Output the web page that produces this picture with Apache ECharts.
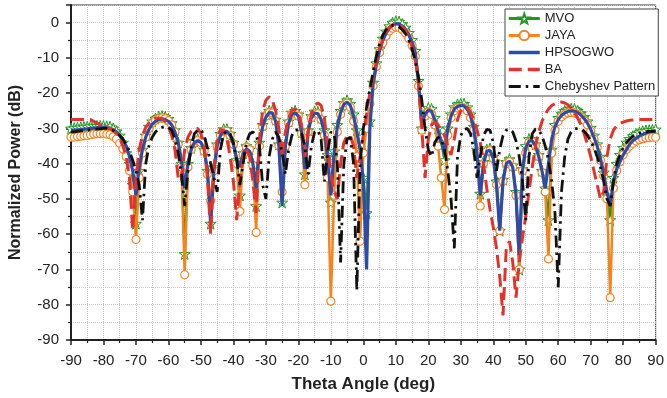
<!DOCTYPE html>
<html>
<head>
<meta charset="UTF-8">
<title>Normalized Power vs Theta Angle</title>
<script src="https://cdn.jsdelivr.net/npm/echarts/dist/echarts.min.js"></script>
<style>
  html, body { margin: 0; padding: 0; background: #fff; }
  #chart { width: 667px; height: 398px; }
</style>
</head>
<body>
<div id="chart"></div>
<script>
// theta grid, 1 deg steps from -90 to 90
const THETA = Array.from({ length: 181 }, (_, i) => i - 90);

// normalized power (dB), one value per degree
const MVO = [
  -30.0, -29.9, -29.8, -29.7, -29.6, -29.5, -29.4, -29.3, -29.3, -29.3,
  -29.3, -29.4, -29.5, -30.0, -30.8, -32.0, -34.0, -37.0, -40.0, -46.0,
  -57.0, -42.0, -36.0, -32.0, -29.5, -28.0, -27.2, -26.7, -26.5, -26.7,
  -27.3, -28.5, -30.5, -34.0, -40.0, -65.6, -40.0, -35.5, -33.5, -33.0,
  -33.5, -36.0, -42.0, -57.0, -41.0, -34.5, -31.5, -30.2, -30.2, -31.5,
  -34.0, -39.0, -49.0, -37.0, -35.0, -36.0, -40.0, -52.0, -34.0, -29.0,
  -26.0, -25.0, -25.0, -27.5, -34.5, -51.0, -34.5, -28.0, -25.5, -25.0,
  -26.0, -31.0, -43.0, -30.5, -26.5, -25.2, -25.3, -27.0, -30.5, -37.5,
  -51.0, -36.5, -29.0, -25.0, -22.8, -22.0, -23.0, -26.0, -30.5, -36.0,
  -44.0, -54.0, -28.0, -17.0, -11.5, -7.5, -4.5, -2.5, -1.0, 0.0,
  0.4, 0.3, -0.4, -1.4, -2.9, -4.9, -8.0, -16.5, -30.0, -25.5,
  -24.2, -24.5, -27.0, -30.0, -34.0, -39.0, -30.0, -26.0, -24.0, -23.2,
  -23.0, -23.0, -24.0, -26.0, -29.5, -36.0, -48.5, -39.5, -36.0, -35.7,
  -38.0, -45.0, -59.0, -44.5, -39.5, -38.7, -40.5, -48.0, -70.0, -41.5,
  -35.0, -33.0, -33.0, -34.5, -37.5, -42.0, -47.0, -56.0, -36.0, -29.0,
  -27.0, -25.8, -25.0, -24.6, -24.4, -24.5, -25.0, -25.7, -26.7, -28.0,
  -29.8, -32.0, -34.5, -38.0, -42.5, -49.0, -56.0, -44.0, -40.0, -37.5,
  -35.5, -34.0, -33.0, -32.2, -31.6, -31.1, -30.8, -30.6, -30.5, -30.4,
  -30.3
];

const JAYA = [
  -32.5, -32.5, -32.3, -32.2, -32.1, -32.0, -31.8, -31.6, -31.5, -31.5,
  -31.5, -31.6, -31.8, -32.3, -33.0, -34.2, -35.8, -38.0, -42.0, -48.0,
  -61.5, -44.0, -37.0, -32.5, -30.0, -28.5, -27.7, -27.2, -27.0, -27.2,
  -27.8, -29.0, -31.0, -34.5, -41.0, -71.5, -41.0, -36.0, -34.0, -33.5,
  -34.0, -36.5, -43.0, -50.5, -42.0, -35.0, -32.0, -30.8, -30.8, -32.0,
  -34.5, -40.0, -53.5, -37.5, -35.3, -36.0, -40.5, -59.5, -35.0, -29.5,
  -26.5, -25.5, -25.6, -28.0, -35.0, -48.0, -35.0, -28.5, -26.0, -25.5,
  -26.5, -31.5, -46.0, -31.0, -27.0, -25.7, -25.8, -27.5, -32.0, -44.0,
  -79.0, -49.0, -31.0, -26.0, -23.5, -22.8, -24.0, -28.0, -38.0, -62.0,
  -37.0, -30.0, -23.0, -18.0, -12.5, -8.5, -5.8, -3.8, -2.4, -1.6,
  -1.3, -1.4, -2.0, -3.0, -4.5, -6.5, -9.5, -18.0, -30.5, -26.5,
  -25.3, -26.0, -29.0, -35.0, -44.0, -53.0, -32.0, -27.0, -25.0, -24.2,
  -24.0, -24.2, -25.0, -27.0, -30.5, -37.0, -52.0, -40.0, -36.5, -36.3,
  -38.5, -46.0, -59.0, -45.0, -40.0, -39.4, -41.0, -49.0, -70.0, -42.0,
  -37.0, -34.0, -33.8, -35.0, -38.0, -42.5, -48.0, -67.0, -37.0, -30.5,
  -28.0, -26.7, -26.0, -25.6, -25.5, -25.6, -26.0, -26.7, -27.7, -29.0,
  -30.8, -33.0, -35.5, -39.0, -43.5, -50.0, -78.0, -47.0, -42.0, -39.5,
  -37.5, -36.0, -35.0, -34.2, -33.6, -33.2, -32.9, -32.7, -32.6, -32.5,
  -32.5
];

const HPSOGWO = [
  -30.5, -30.5, -30.4, -30.3, -30.2, -30.1, -30.0, -29.9, -29.8, -29.8,
  -29.8, -29.8, -30.0, -30.3, -31.0, -32.0, -33.5, -35.0, -38.0, -42.0,
  -49.0, -41.0, -36.0, -32.5, -30.3, -28.8, -28.0, -27.5, -27.3, -27.5,
  -28.0, -29.0, -31.0, -34.0, -39.0, -47.0, -40.0, -36.0, -34.0, -33.5,
  -34.0, -36.0, -42.0, -57.0, -42.0, -35.0, -32.0, -30.8, -30.8, -32.0,
  -34.5, -38.5, -41.0, -37.0, -35.8, -36.5, -40.0, -47.0, -35.0, -29.5,
  -26.8, -25.5, -25.6, -28.0, -35.0, -52.0, -35.0, -28.5, -26.0, -25.5,
  -26.5, -31.0, -41.5, -31.0, -27.0, -25.7, -25.8, -27.5, -31.0, -38.0,
  -49.0, -37.0, -29.5, -25.5, -23.2, -22.5, -23.5, -26.5, -31.0, -36.0,
  -45.0, -70.0, -30.0, -17.5, -12.0, -8.0, -5.0, -3.0, -1.6, -0.7,
  -0.3, -0.4, -1.0, -2.0, -3.5, -5.5, -8.5, -17.0, -29.0, -26.0,
  -24.8, -25.2, -27.5, -30.5, -34.0, -37.0, -30.0, -26.5, -24.5, -23.8,
  -23.5, -23.6, -24.5, -26.5, -30.0, -37.0, -49.0, -40.0, -36.5, -36.2,
  -38.5, -46.0, -59.0, -45.0, -40.0, -39.2, -41.0, -49.0, -66.0, -42.0,
  -35.5, -33.6, -33.5, -35.0, -38.0, -42.0, -47.0, -40.0, -33.0, -29.5,
  -27.5, -26.3, -25.6, -25.2, -25.0, -25.1, -25.5, -26.2, -27.2, -28.5,
  -30.3, -32.5, -35.0, -38.5, -43.0, -48.0, -52.0, -45.0, -41.5, -39.5,
  -37.5, -36.0, -34.5, -33.5, -32.8, -32.2, -31.7, -31.3, -31.0, -30.8,
  -30.7
];

const BA = [
  -27.5, -27.5, -27.5, -27.5, -27.5, -27.5, -27.5, -28.0, -28.5, -29.0,
  -29.5, -29.8, -30.0, -30.5, -31.5, -33.0, -35.0, -38.0, -44.0, -59.0,
  -44.0, -36.0, -32.0, -29.8, -28.5, -27.7, -27.2, -27.0, -27.2, -28.0,
  -29.5, -32.0, -36.0, -44.0, -45.0, -36.0, -32.5, -30.8, -30.0, -30.0,
  -31.5, -35.0, -44.0, -60.0, -41.0, -33.0, -30.3, -30.5, -33.0, -38.0,
  -45.0, -56.0, -45.0, -38.0, -36.0, -38.0, -45.0, -54.0, -33.0, -25.0,
  -22.0, -21.0, -22.0, -25.0, -30.0, -38.0, -31.0, -27.0, -25.0, -24.5,
  -25.5, -29.0, -38.0, -31.0, -26.0, -23.5, -22.8, -23.5, -27.0, -35.0,
  -43.0, -48.0, -50.0, -40.0, -34.0, -32.0, -32.0, -35.0, -44.0, -38.0,
  -32.0, -26.0, -20.0, -15.5, -11.0, -7.5, -4.8, -2.8, -1.4, -0.6,
  -0.3, -0.5, -1.2, -2.4, -4.2, -6.8, -10.5, -17.0, -30.0, -44.0,
  -33.0, -29.0, -28.3, -29.0, -30.5, -32.0, -35.0, -37.5, -33.0, -27.5,
  -25.0, -24.0, -24.0, -25.5, -27.5, -30.5, -34.0, -40.0, -47.0, -53.0,
  -58.0, -64.0, -72.0, -83.0, -64.0, -62.0, -68.0, -78.0, -68.0, -61.0,
  -55.0, -48.0, -41.0, -35.0, -31.0, -28.0, -26.0, -24.5, -23.5, -23.0,
  -22.5, -22.5, -22.8, -23.3, -24.2, -25.5, -27.0, -29.0, -31.5, -34.5,
  -38.0, -42.0, -46.0, -50.0, -48.0, -38.0, -33.0, -30.5, -29.3, -28.6,
  -28.2, -27.9, -27.7, -27.6, -27.5, -27.5, -27.5, -27.5, -27.5, -27.5,
  -27.5
];

const CHEBYSHEV = [
  -31.0, -31.0, -30.8, -30.7, -30.6, -30.5, -30.4, -30.3, -30.2, -30.1,
  -30.0, -30.0, -30.2, -30.6, -31.2, -32.0, -33.0, -34.5, -36.5, -39.0,
  -42.0, -46.0, -56.0, -40.0, -35.0, -32.5, -31.0, -30.2, -29.7, -29.5,
  -29.6, -30.5, -33.0, -37.0, -43.0, -52.0, -42.0, -35.0, -31.5, -30.5,
  -30.3, -32.0, -35.5, -40.0, -44.0, -48.0, -36.0, -31.5, -30.8, -31.5,
  -34.0, -39.0, -46.0, -40.0, -34.0, -31.5, -31.0, -32.0, -35.0, -46.0,
  -50.0, -38.0, -33.0, -31.0, -32.5, -37.0, -43.0, -36.0, -32.0, -30.5,
  -30.3, -31.5, -35.0, -43.0, -35.0, -31.0, -30.5, -33.0, -45.0, -37.0,
  -31.0, -31.5, -40.0, -68.0, -40.0, -33.0, -32.5, -40.0, -76.0, -40.0,
  -30.0, -24.0, -19.0, -14.0, -9.5, -6.0, -3.5, -2.0, -1.2, -0.8,
  -0.8, -1.2, -2.0, -3.2, -5.0, -7.5, -11.0, -15.5, -22.0, -30.0,
  -36.0, -38.0, -34.0, -32.5, -33.0, -36.0, -42.0, -50.0, -64.0, -38.0,
  -32.0, -30.3, -30.0, -31.5, -36.0, -44.0, -38.0, -32.0, -30.3, -30.5,
  -34.0, -42.0, -36.0, -32.0, -30.5, -30.2, -31.0, -33.5, -38.0, -45.0,
  -56.0, -38.0, -31.5, -30.2, -30.5, -32.0, -35.0, -39.0, -45.0, -54.0,
  -75.0, -48.0, -38.0, -33.0, -31.0, -30.2, -30.0, -30.2, -30.8, -32.0,
  -33.5, -35.5, -38.0, -41.0, -45.0, -50.0, -52.0, -45.0, -40.0, -37.5,
  -35.5, -34.0, -33.0, -32.2, -31.7, -31.3, -31.0, -31.0, -30.8, -30.8,
  -30.8
];

const SERIES_NAMES = ['MVO', 'JAYA', 'HPSOGWO', 'BA', 'Chebyshev Pattern'];

const pairs = vals => THETA.map((t, i) => [t, vals[i]]);

const STAR = 'path://M0,-10L2.35,-3.24L9.51,-3.09L3.8,1.24L5.88,8.09L0,4L-5.88,8.09L-3.8,1.24L-9.51,-3.09L-2.35,-3.24Z';
const FONT = 'Liberation Sans, Arial, sans-serif';
const gridLine = { lineStyle: { type: 'dotted', color: '#c4c4c4', width: 1 } };
const hiddenMark = { opacity: 0 };

const chart = echarts.init(document.getElementById('chart'));
chart.setOption({
  animation: false,
  backgroundColor: '#fff',
  textStyle: { fontFamily: FONT },
  grid: { left: 63, right: 9, top: 5, bottom: 55, show: true, borderColor: '#333', borderWidth: 1 },
  legend: {
    orient: 'vertical', left: 505, top: 9,
    itemWidth: 31, itemHeight: 12, itemGap: 4,
    padding: [3, 3, 3, 2],
    borderColor: '#444', borderWidth: 1, backgroundColor: '#fff',
    textStyle: { fontSize: 13, lineHeight: 12, color: '#222', fontFamily: FONT },
    data: [
      { name: SERIES_NAMES[0], lineStyle: { width: 3 } },
      { name: SERIES_NAMES[1], lineStyle: { width: 3 } },
      { name: SERIES_NAMES[2], itemStyle: hiddenMark, lineStyle: { width: 3.5 } },
      { name: SERIES_NAMES[3], itemStyle: hiddenMark, lineStyle: { width: 3.5 } },
      { name: SERIES_NAMES[4], itemStyle: hiddenMark, lineStyle: { width: 3 } }
    ]
  },
  xAxis: {
    type: 'value', min: -90, max: 90, interval: 10,
    name: 'Theta Angle (deg)', nameLocation: 'middle', nameGap: 36,
    nameTextStyle: { fontSize: 17, fontWeight: 'bold', color: '#222', fontFamily: FONT },
    axisLine: { onZero: false, lineStyle: { color: '#222', width: 2 } },
    axisTick: { length: 5, lineStyle: { color: '#222', width: 1.5 } },
    minorTick: { show: true, splitNumber: 2, length: 3, lineStyle: { color: '#222', width: 1.2 } },
    splitLine: gridLine,
    minorSplitLine: Object.assign({ show: true }, gridLine),
    axisLabel: { fontSize: 15, color: '#222', margin: 13, fontFamily: FONT }
  },
  yAxis: {
    type: 'value', min: -90, max: 5, interval: 10,
    name: 'Normalized Power (dB)', nameLocation: 'middle', nameGap: 47,
    nameTextStyle: { fontSize: 16, fontWeight: 'bold', color: '#222', fontFamily: FONT },
    axisLine: { onZero: false, lineStyle: { color: '#222', width: 2 } },
    axisTick: { length: 5, lineStyle: { color: '#222', width: 1.5 } },
    minorTick: { show: true, splitNumber: 2, length: 3, lineStyle: { color: '#222', width: 1.2 } },
    splitLine: gridLine,
    minorSplitLine: Object.assign({ show: true }, gridLine),
    axisLabel: { fontSize: 15, color: '#222', margin: 12, showMaxLabel: false, fontFamily: FONT }
  },
  series: [
    {
      name: SERIES_NAMES[0], type: 'line', data: pairs(MVO), z: 2,
      symbol: STAR, symbolSize: 11, showAllSymbol: true,
      lineStyle: { color: '#1e9a1e', width: 2.5 },
      itemStyle: { color: '#fff', borderColor: '#1e9a1e', borderWidth: 1 }
    },
    {
      name: SERIES_NAMES[1], type: 'line', data: pairs(JAYA), z: 3,
      symbol: 'circle', symbolSize: 8, showAllSymbol: true,
      lineStyle: { color: '#f5841f', width: 2.5 },
      itemStyle: { color: '#fff', borderColor: '#f5841f', borderWidth: 1.2 }
    },
    {
      name: SERIES_NAMES[2], type: 'line', data: pairs(HPSOGWO), z: 4,
      symbol: 'none',
      lineStyle: { color: '#2e4ca6', width: 3.2 },
      itemStyle: { color: '#2e4ca6' }
    },
    {
      name: SERIES_NAMES[3], type: 'line', data: pairs(BA), z: 5,
      symbol: 'none',
      lineStyle: { color: '#e3322a', width: 3, type: [13, 6] },
      itemStyle: { color: '#e3322a' }
    },
    {
      name: SERIES_NAMES[4], type: 'line', data: pairs(CHEBYSHEV), z: 6,
      symbol: 'none',
      lineStyle: { color: '#111', width: 2.8, type: [12, 5, 2.5, 5] },
      itemStyle: { color: '#111' }
    }
  ]
});
</script>
</body>
</html>
